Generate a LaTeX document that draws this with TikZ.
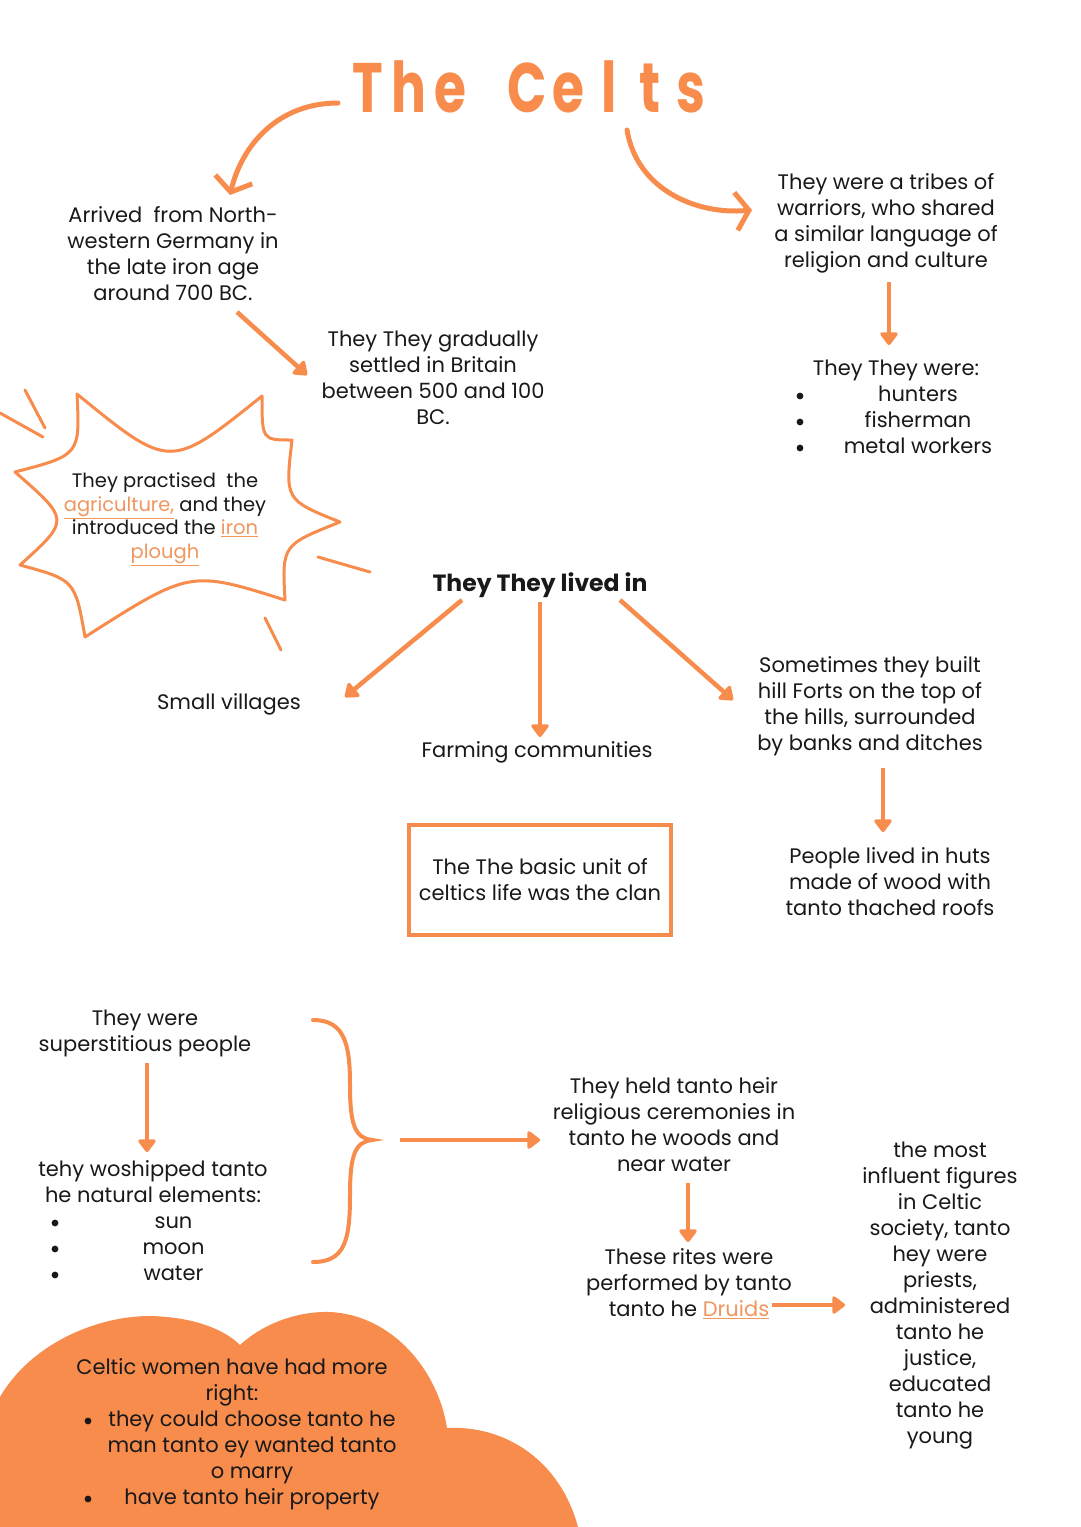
\documentclass[tikz,border=0pt]{standalone}
\usepackage{fontspec}
\usepackage{graphicx}
\setmainfont{Poppins}
\usetikzlibrary{arrows.meta,calc}
\definecolor{celtor}{RGB}{247,140,76}
\definecolor{ink}{RGB}{25,25,25}
\definecolor{linkor}{RGB}{240,150,95}
\newcommand\ulor[1]{\textcolor{linkor}{\underline{#1}}}
\newcommand\tletter[1]{\makebox[41pt]{\scalebox{0.74}[1]{#1}}}
\newcommand\bulspace{\rule{8pt}{0pt}}
\newcommand\shiftl[1]{\rule{#1}{0pt}}
\tikzset{
  txt/.style={text=ink, align=center, font=\fontsize{21}{26}\selectfont, inner sep=0pt},
  arr/.style={draw=celtor, line width=4.5pt, -{Triangle[length=14pt,width=20pt,round]}},
  carr/.style={draw=celtor, line width=5pt, line cap=round, -{Straight Barb[length=13pt,width=38pt,line width=5pt]}},
  burst/.style={draw=celtor, line width=3pt, line cap=round, line join=round},
  bulletdot/.style={fill=ink},
}
\begin{document}
\begin{tikzpicture}[x=1pt,y=-1pt]
\useasboundingbox (0,0) rectangle (1080,1527);
\fill[white] (0,0) rectangle (1080,1527);

% cloud
\fill[celtor] (0,1527) -- (0,1397)
  .. controls (30,1345) and (95,1316) .. (150,1316)
  .. controls (195,1317) and (225,1330) .. (240,1345)
  .. controls (265,1322) and (300,1311) .. (330,1312)
  .. controls (392,1315) and (438,1370) .. (447,1428)
  .. controls (505,1425) and (560,1460) .. (578,1527) -- cycle;

% starburst
\draw[burst] (77,394) .. controls (170,470) .. (262,396)
  .. controls (262,440) .. (292,440)
  .. controls (285,500) .. (340,522)
  .. controls (282,545) .. (285,600)
  .. controls (190,570) .. (85,637)
  .. controls (75,580) .. (20,565)
  .. controls (70,520) .. (15,472)
  .. controls (80,455) .. cycle;
\draw[burst] (25,390) -- (45,428);
\draw[burst] (0,413) -- (43,437);
\draw[burst] (318,557) -- (370,572);
\draw[burst] (265,618) -- (281,650);

% brace
\draw[celtor, line width=4pt, line cap=round]
  (313,1020) .. controls (345,1020) and (350,1045) .. (350,1085)
  .. controls (350,1125) and (355,1138) .. (372,1140)
  .. controls (355,1142) and (350,1155) .. (350,1195)
  .. controls (350,1240) and (345,1262) .. (313,1262);
\coordinate (bracetip) at (372,1140);

% title
\node[text=celtor, inner sep=0pt, font=\fontsize{70}{70}\selectfont\bfseries] (title) at (529.5,87)
  {\tletter{T}\tletter{h}\tletter{e}\hspace{36pt}\tletter{C}\tletter{e}\tletter{l}\tletter{t}\tletter{s}};

% text nodes
\node[txt] (arrived) at (173,254) {Arrived\ \ from North-\\western Germany in\\the late iron age\\around 700 BC.};
\node[txt] (gradual) at (433,378) {They They gradually\\settled in Britain\\between 500 and 100\\BC.};
\node[txt] (tribes) at (886,223) {They were a tribes of\\warriors, who shared\\a similar language of\\religion and culture};
\node[txt] (were) at (914,409) {\begin{tabular}{@{}l@{}c@{}}
\multicolumn{2}{c}{They They were:\shiftl{36pt}}\\
\bulspace&\makebox[228pt]{hunters}\\
\bulspace&\makebox[228pt]{fisherman}\\
\bulspace&\makebox[228pt]{metal workers}
\end{tabular}};
\node[txt, font=\fontsize{19.5}{23.5}\selectfont] (practise) at (165,519)
  {They practised\ \ the\\\ulor{agriculture,} and they\\introduced the \ulor{iron}\\\ulor{plough}};
\node[txt, font=\fontsize{23.5}{26}\selectfont\bfseries] (lived) at (540,585) {They They lived in};
\node[txt] (villages) at (229,704) {Small villages};
\node[txt] (farming) at (537,752) {Farming communities};
\node[txt] (forts) at (870,706) {Sometimes they built\\hill Forts on the top of\\the hills, surrounded\\by banks and ditches};
\node[txt] (huts) at (890,882) {People lived in huts\\made of wood with\\tanto thached roofs};
\node[txt, draw=celtor, line width=4pt, minimum width=262pt, minimum height=110pt] (clan) at (540,880)
  {The The basic unit of\\celtics life was the clan};
\node[txt] (superst) at (145,1033) {They were\\superstitious people};
\node[txt] (worship) at (169.5,1223) {\begin{tabular}{@{}l@{}c@{}}
\multicolumn{2}{c}{tehy woshipped tanto\shiftl{33pt}}\\
\multicolumn{2}{c}{he natural elements:\shiftl{33pt}}\\
\bulspace&\makebox[228pt]{sun}\\
\bulspace&\makebox[228pt]{moon}\\
\bulspace&\makebox[228pt]{water}
\end{tabular}};
\node[txt] (cer) at (674,1125) {They held tanto heir\\religious ceremonies in\\tanto he woods and\\near water};
\node[txt] (rites) at (689,1284) {These rites were\\performed by tanto\\tanto he \ulor{Druids}};
\node[txt] (influent) at (940,1295.5) {the most\\influent figures\\in Celtic\\society, tanto\\hey were\\priests,\\administered\\tanto he\\justice,\\educated\\tanto he\\young};
\node[txt] (women) at (248,1434) {\begin{tabular}{@{}l@{}c@{}}
\multicolumn{2}{c}{Celtic women have had more\shiftl{32pt}}\\
\multicolumn{2}{c}{right:\shiftl{32pt}}\\
\bulspace&\makebox[320pt]{they could choose tanto he}\\
\bulspace&\makebox[320pt]{man tanto ey wanted tanto}\\
\bulspace&\makebox[320pt]{o marry}\\
\bulspace&\makebox[320pt]{have tanto heir property}
\end{tabular}};

% bullets
\foreach \dy in {-13,13,39} \fill[bulletdot] ([shift={(-114,\dy)}]were.center) circle (3.4pt);
\foreach \dy in {0,26,52} \fill[bulletdot] ([shift={(-114.5,\dy)}]worship.center) circle (3.4pt);
\foreach \dy in {-13,65} \fill[bulletdot] ([shift={(-160,\dy)}]women.center) circle (3.4pt);

% connectors
\draw[carr] ([shift={(-191.5,16)}]title.center) .. controls +(-60,0) and +(12,-50) .. ([shift={(57,-59)}]arrived.center);
\draw[carr] ([shift={(97.5,43)}]title.center) .. controls +(10,60) and +(-55,5) .. ([shift={(-134,-13)}]tribes.center);
\draw[arr] ([shift={(64,58)}]arrived.center) -- ([shift={(-126,-3)}]gradual.center);
\draw[arr] ([shift={(3,59)}]tribes.center) -- ([shift={(-25,-64)}]were.center);
\draw[arr] ([shift={(-78,15)}]lived.center) -- ([shift={(116,-7)}]villages.center);
\draw[arr] ([shift={(0,17)}]lived.center) -- ([shift={(3,-15)}]farming.center);
\draw[arr] ([shift={(80,15)}]lived.center) -- ([shift={(-137,-6)}]forts.center);
\draw[arr] ([shift={(13,62)}]forts.center) -- ([shift={(-7,-50)}]huts.center);
\draw[arr] ([shift={(2,30)}]superst.center) -- ([shift={(-22.5,-71)}]worship.center);
\draw[arr] ([shift={(28,0)}]bracetip) -- ([shift={(-134,15)}]cer.center);
\draw[arr] ([shift={(14,58)}]cer.center) -- ([shift={(-1,-42)}]rites.center);
\draw[arr] ([shift={(83,21)}]rites.center) -- ([shift={(-95,9.5)}]influent.center);
\end{tikzpicture}
\end{document}
